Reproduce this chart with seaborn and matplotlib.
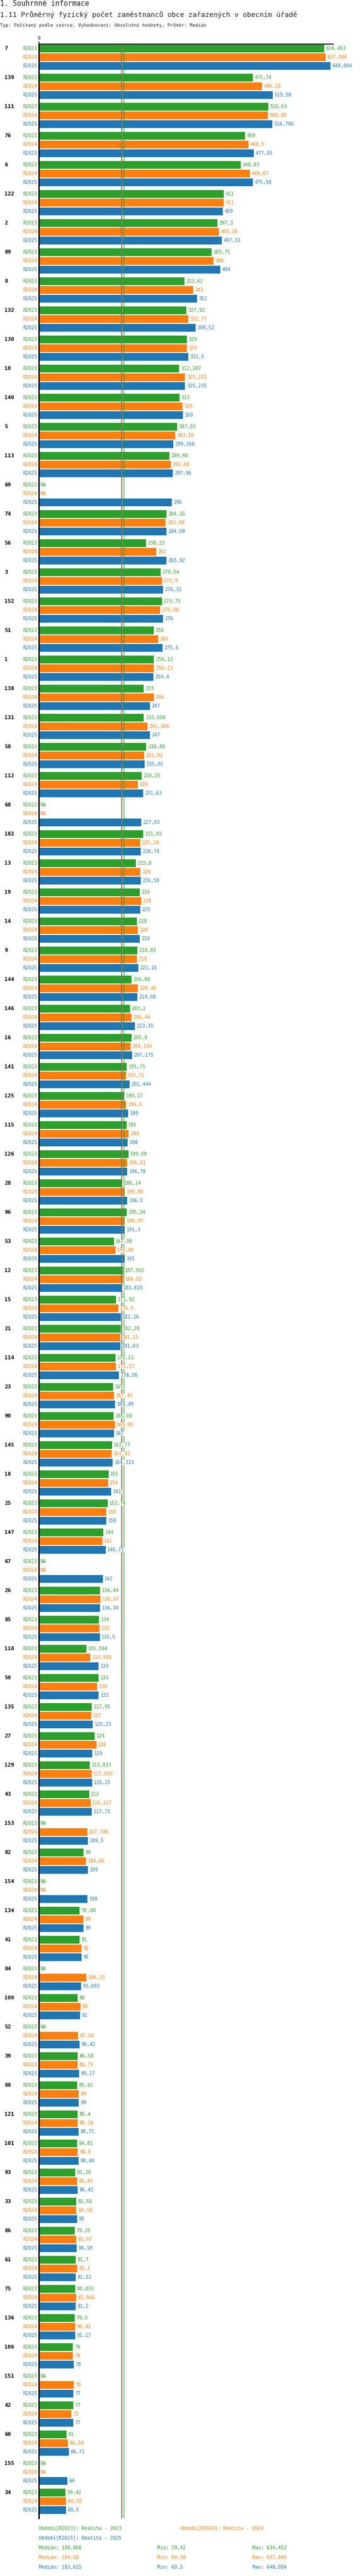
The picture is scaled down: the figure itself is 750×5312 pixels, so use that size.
import numpy as np
import pandas as pd
import matplotlib
matplotlib.use('Agg')
import matplotlib.pyplot as plt
import seaborn as sns

nan = np.nan

# municipalities, sorted by R2025 (as in the report)
groups = ['7', '139', '111', '76', '6', '122', '2', '89', '8', '132',
          '130', '10', '140', '5', '113', '69', '74', '56', '3', '152',
          '51', '1', '138', '131', '58', '112', '68', '102', '13', '19',
          '14', '9', '144', '146', '16', '141', '125', '115', '126', '28',
          '96', '53', '12', '15', '21', '114', '23', '90', '145', '18',
          '25', '147', '67', '26', '85', '118', '50', '135', '27', '129',
          '43', '153', '82', '154', '134', '41', '84', '100', '52', '39',
          '88', '121', '101', '93', '33', '86', '61', '75', '136', '106',
          '151', '42', '60', '155', '34']

periods = ['R2023', 'R2024', 'R2025']
period_names = ['Realita - 2023', 'Realita - 2024', 'Realita - 2025']

r2023 = [634.453, 475.74, 510.63, 459, 448.83, 411, 397.3, 383.75, 323.62, 327.92,
         329, 312.287, 313, 307.83, 289.98, nan, 284.16, 238.33, 270.54, 273.75,
         256, 256.13, 233, 233.608, 238.88, 228.25, nan, 231.93, 215.8, 224,
         218, 218.83, 206.08, 203.2, 205.8, 195.75, 190.17, 195, 199.09, 186.14,
         195.34, 167.08, 187.562, 171.92, 182.28, 170.13, 165, 166.08, 162.77, 155,
         152.76, 144, nan, 136.44, 134, 105.594, 133, 117.95, 124, 113.833,
         112, nan, 99, nan, 91.08, 91, nan, 86, nan, 86.58,
         85.42, 86.4, 84.81, 81.28, 82.58, 79.35, 81.7, 80.833, 79.5, 76,
         nan, 77, 61, nan, 59.42]

r2024 = [637.666, 496.28, 508.88, 466.5, 469.67, 411, 400.28, 388, 343, 332.77,
         329, 325.221, 319, 303.58, 292.98, nan, 282.08, 261, 273.9, 270.08,
         265, 256.13, 256, 241.366, 233.93, 220, nan, 225.24, 226, 228,
         220, 218, 220.42, 206.44, 204.134, 193.71, 194.5, 200, 196.61, 190.98,
         190.97, 170.08, 188.03, 176.5, 181.13, 171.57, 167.42, 169.08, 161.82, 154,
         150, 141, nan, 136.97, 135, 114.566, 130, 117, 128, 117.083,
         115.227, 107.746, 104.66, nan, 99, 95, 106.25, 93, 87.58, 86.75,
         89, 86.16, 86.8, 84.85, 83.58, 83.07, 85.1, 82.666, 80.42, 76,
         78, 72, 64.59, nan, 60.58]

r2025 = [648.084, 519.58, 518.786, 477.83, 475.58, 409, 407.33, 404, 352, 348.52,
         332.5, 325.235, 320, 299.166, 297.96, 296, 284.08, 283.92, 276.32, 276,
         275.5, 254.4, 247, 247, 235.05, 231.63, 227.83, 226.74, 226.58, 225,
         224, 221.16, 219.08, 213.35, 207.175, 201.444, 199, 198, 196.78, 196.5,
         191.3, 191, 183.615, 182.16, 181.03, 178.56, 169.49, 167, 164.323, 161,
         150, 148.72, 142, 136.34, 135.5, 133, 133, 120.23, 119, 118.25,
         117.71, 109.5, 109, 108, 99, 95, 93.693, 92, 90.42, 89.17,
         89, 88.71, 88.48, 86.42, 85, 84.18, 81.52, 81.5, 81.17, 78,
         77, 77, 66.71, 64, 60.5]

series = {'R2023': r2023, 'R2024': r2024, 'R2025': r2025}
colors = {'R2023': '#2ca02c', 'R2024': '#ff7f0e', 'R2025': '#1f77b4'}


def fmt(v):
    if np.isnan(v):
        return 'NA'
    return f'{v:g}'.replace('.', ',')


rows = []
for p in periods:
    for g, v in zip(groups, series[p]):
        rows.append((g, p, v))
df = pd.DataFrame(rows, columns=['group', 'period', 'value'])
df['plotval'] = df['value'].fillna(0)

sns.set_theme(style='white')
plt.rcParams['font.family'] = ['DejaVu Sans Mono', 'DejaVu Sans']

W, H = 750, 5312
fig = plt.figure(figsize=(W / 100, H / 100), dpi=100)
left, right, top, bottom = 80, 687, 91, 5193
ax = fig.add_axes([left / W, 1 - bottom / H, (right - left) / W, (bottom - top) / H])

sns.barplot(data=df, x='plotval', y='group', hue='period', order=groups,
            hue_order=periods, palette=colors, orient='h', errorbar=None,
            width=0.9, gap=0.11, saturation=1, linewidth=0, legend=False, ax=ax)

ax.set_xlim(0, 655)
ax.set_ylim(84.583, -0.45)

# median lines
for p in periods:
    ax.axvline(np.nanmedian(series[p]), color=colors[p], lw=0.8, zorder=2.5)

for p, cont in zip(periods, ax.containers):
    idx = [int(round(b.get_y() + b.get_height() / 2)) for b in cont]
    labels = [fmt(series[p][i]) for i in idx]
    ax.bar_label(cont, labels=labels, padding=2.5, color=colors[p], fontsize=7,
                 bbox=dict(facecolor='white', edgecolor='none', pad=0.3), zorder=4)
    for b in cont:
        yc = b.get_y() + b.get_height() / 2
        ax.annotate(p, xy=(0, yc), xytext=(-2.5, 0), textcoords='offset points',
                    ha='right', va='center', color=colors[p], fontsize=7,
                    annotation_clip=False)
    if p == periods[0]:
        for i, b in zip(idx, cont):
            yc = b.get_y() + b.get_height() / 2
            ax.text(-0.117, yc, groups[i], transform=ax.get_yaxis_transform(),
                    ha='left', va='center', fontsize=8, fontweight='bold', color='black')

for s in ['right', 'bottom']:
    ax.spines[s].set_visible(False)
ax.spines['left'].set_color('black')
ax.spines['left'].set_linewidth(2)
ax.spines['top'].set_color('black')
ax.spines['top'].set_linewidth(1.3)

ax.set_yticks([])
ax.xaxis.tick_top()
ax.set_xticks([0])
ax.set_xticklabels(['0'])
ax.tick_params(axis='x', top=True, bottom=False, length=4, width=1, color='black',
               labelsize=7, pad=1)
ax.set_xlabel('')
ax.set_ylabel('')

# headings
fig.text(0, 1 - 8 / H, '1. Souhrnné informace', fontsize=10.5, va='center', ha='left')
fig.text(0, 1 - 31 / H, '1.11 Průměrný fyzický počet zaměstnanců obce zařazených v obecním úřadě',
         fontsize=10.3, va='center', ha='left')
fig.text(0, 1 - 52 / H, 'Typ: Počítaný podle vzorce, Vyhodnocení: Absolutní hodnoty, Průměr: Medián',
         fontsize=6.8, va='center', ha='left')

# legend and statistics
leg_pos = [(80, 5214), (372, 5214), (80, 5234)]
for (x, y), p, name in zip(leg_pos, periods, period_names):
    fig.text(x / W, 1 - y / H, f'Období[{p}]: {name}', color=colors[p], fontsize=7, va='center')

for k, p in enumerate(periods):
    y = 1 - (5254 + 20 * k) / H
    vals = np.array(series[p], dtype=float)
    fig.text(80 / W, y, f'Medián: {fmt(np.nanmedian(vals))}', color=colors[p], fontsize=7, va='center')
    fig.text(324 / W, y, f'Min: {fmt(np.nanmin(vals))}', color=colors[p], fontsize=7, va='center')
    fig.text(520 / W, y, f'Max: {fmt(np.nanmax(vals))}', color=colors[p], fontsize=7, va='center')

fig.savefig('out.png', dpi=100)
